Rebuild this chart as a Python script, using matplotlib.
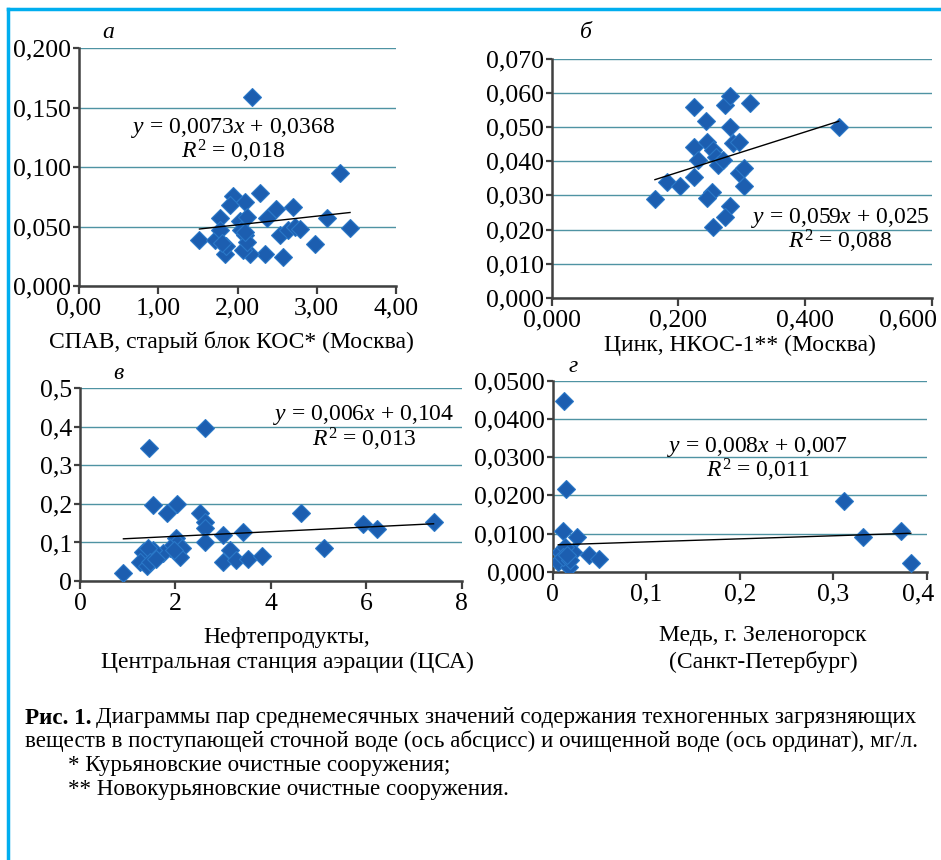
import numpy as np
import matplotlib
matplotlib.use("Agg")
import matplotlib.pyplot as plt
from matplotlib.lines import Line2D
from matplotlib.transforms import ScaledTranslation

plt.rcParams['font.family'] = ['Liberation Serif', 'DejaVu Serif']
plt.rcParams['mathtext.fontset'] = 'custom'
plt.rcParams['mathtext.rm'] = 'Liberation Serif'
plt.rcParams['mathtext.it'] = 'Liberation Serif:italic'

# ---------- data
a_x = [2.18, 3.29, 1.52, 3.42, 2.98, 2.58, 2.28, 1.94, 1.90, 2.09, 1.78, 2.49, 2.70,
       3.13, 2.35, 2.16, 2.07, 1.84, 1.86, 1.72, 1.78, 2.03, 2.12, 2.05, 2.09, 2.12,
       2.37, 2.54, 2.64, 2.73, 2.79, 2.10, 1.80]
a_y = [0.159, 0.095, 0.039, 0.049, 0.035, 0.024, 0.078, 0.076, 0.068, 0.071, 0.057, 0.065, 0.066,
       0.057, 0.027, 0.027, 0.030, 0.027, 0.034, 0.039, 0.047, 0.055, 0.058, 0.047, 0.043, 0.037,
       0.057, 0.043, 0.047, 0.050, 0.048, 0.045, 0.036]

b_x = [0.163, 0.182, 0.203, 0.224, 0.224, 0.224, 0.231, 0.244, 0.245, 0.255, 0.260, 0.263, 0.271,
       0.274, 0.282, 0.282, 0.287, 0.295, 0.295, 0.303, 0.303, 0.313, 0.253, 0.245, 0.282, 0.274,
       0.255, 0.453]
b_y = [0.0289, 0.0340, 0.0328, 0.0560, 0.0443, 0.0355, 0.0404, 0.0519, 0.0458, 0.0433, 0.0413, 0.0389, 0.0404,
       0.0565, 0.0592, 0.0500, 0.0453, 0.0458, 0.0365, 0.0380, 0.0328, 0.0570, 0.0311, 0.0291, 0.0269, 0.0238,
       0.0208, 0.0500]

c_x = [0.91, 1.45, 2.62, 1.52, 2.03, 1.82, 2.52, 2.62, 2.62, 2.62, 3.00, 3.42, 2.01, 2.03, 2.13, 2.10,
       1.89, 1.75, 1.54, 1.33, 1.43, 1.26, 1.40, 1.47, 3.14, 3.00, 3.28, 3.53, 3.81, 4.63, 5.12, 5.93,
       6.22, 7.41, 1.60, 1.96]
c_y = [0.022, 0.346, 0.398, 0.197, 0.199, 0.176, 0.177, 0.154, 0.137, 0.102, 0.119, 0.128, 0.111, 0.098,
       0.085, 0.061, 0.085, 0.072, 0.080, 0.076, 0.085, 0.050, 0.039, 0.050, 0.080, 0.050, 0.054, 0.056,
       0.065, 0.176, 0.085, 0.147, 0.135, 0.154, 0.058, 0.080]

d_x = [0.0125, 0.0143, 0.0114, 0.0264, 0.312, 0.332, 0.372, 0.383, 0.039, 0.049, 0.008, 0.006,
       0.017, 0.022, 0.013, 0.011, 0.019, 0.015]
d_y = [0.0447, 0.0216, 0.0106, 0.0090, 0.0186, 0.0090, 0.0106, 0.0024, 0.0044, 0.0032, 0.0052, 0.0026,
       0.0013, 0.0052, 0.0065, 0.0039, 0.0031, 0.0045]

# trend line coefficients (slope, intercept) and labels as printed
trend = {'a': (0.0073, 0.0368), 'b': (0.059, 0.025), 'c': (0.006, 0.104), 'd': (0.008, 0.007)}
eq_text = {'a': ('$y$ = 0,0073$x$ + 0,0368', '$R^{\\mathrm{2}}$ = 0,018'),
           'b': ('$y$ = 0,059$x$ + 0,025', '$R^{\\mathrm{2}}$ = 0,088'),
           'c': ('$y$ = 0,006$x$ + 0,104', '$R^{\\mathrm{2}}$ = 0,013'),
           'd': ('$y$ = 0,008$x$ + 0,007', '$R^{\\mathrm{2}}$ = 0,011')}

a_xticks = [0, 1, 2, 3, 4]
a_xlabels = ['0,00', '1,00', '2,00', '3,00', '4,00']
a_yticks = [0, 0.05, 0.10, 0.15, 0.20]
a_ylabels = ['0,000', '0,050', '0,100', '0,150', '0,200']
b_xticks = [0, 0.2, 0.4, 0.6]
b_xlabels = ['0,000', '0,200', '0,400', '0,600']
b_yticks = [0, 0.01, 0.02, 0.03, 0.04, 0.05, 0.06, 0.07]
b_ylabels = ['0,000', '0,010', '0,020', '0,030', '0,040', '0,050', '0,060', '0,070']
c_xticks = [0, 2, 4, 6, 8]
c_xlabels = ['0', '2', '4', '6', '8']
c_yticks = [0, 0.1, 0.2, 0.3, 0.4, 0.5]
c_ylabels = ['0', '0,1', '0,2', '0,3', '0,4', '0,5']
d_xticks = [0, 0.1, 0.2, 0.3, 0.4]
d_xlabels = ['0', '0,1', '0,2', '0,3', '0,4']
d_yticks = [0, 0.01, 0.02, 0.03, 0.04, 0.05]
d_ylabels = ['0,000', '0,0100', '0,0200', '0,0300', '0,0400', '0,0500']

W, H = 941, 860
fig = plt.figure(figsize=(W / 100, H / 100), dpi=100)

def fx(px):
    return px / W

def fy(py):
    return 1 - py / H

def panel(rect, xs, ys, key, xticks, xlabels, yticks, ylabels, eq_pos, eq_dy, last_shift=0):
    ax = fig.add_axes(rect)
    ax.set_xlim(xticks[0], xticks[-1])
    ax.set_ylim(yticks[0], yticks[-1])
    ax.set_yticks(yticks)
    ax.set_yticklabels(ylabels)
    ax.set_xticks(xticks)
    ax.set_xticklabels(xlabels)
    ax.grid(axis='y', color='#4f93a3', lw=1.0)
    ax.set_axisbelow(True)
    for s in ['top', 'right']:
        ax.spines[s].set_visible(False)
    for s in ['left', 'bottom']:
        ax.spines[s].set_color('#404040')
        ax.spines[s].set_linewidth(1.8)
    ax.tick_params(direction='out', width=1.6, color='#404040', labelsize=18.5)
    ax.tick_params(axis='y', length=4.5, pad=1)
    ax.tick_params(axis='x', length=6, pad=2.5)
    if last_shift:
        lab = ax.get_xticklabels()[-1]
        lab.set_transform(lab.get_transform() + ScaledTranslation(last_shift / 100, 0, fig.dpi_scale_trans))
    ax.plot(xs, ys, ls='none', marker='D', ms=9, color='#1c5eb0',
            mec='#2a78c8', mew=0.8, zorder=3)
    k, b = trend[key]
    tx = np.array([min(xs), max(xs)])
    ax.plot(tx, k * tx + b, color='black', lw=1.0, zorder=4)
    l1, l2 = eq_text[key]
    ax.text(eq_pos[0], eq_pos[1], l1, ha='center', va='center', fontsize=17, zorder=5)
    ax.text(eq_pos[0], eq_pos[1] - eq_dy, l2, ha='center', va='center', fontsize=17, zorder=5)
    return ax

panel([fx(79), fy(286), fx(396) - fx(79), fy(48) - fy(286)], a_x, a_y, 'a',
      a_xticks, a_xlabels, a_yticks, a_ylabels, (1.94, 0.133), 0.020)
panel([fx(551.7), fy(297.7), fx(931.7) - fx(551.7), fy(59) - fy(297.7)], b_x, b_y, 'b',
      b_xticks, b_xlabels, b_yticks, b_ylabels, (0.455, 0.0233), 0.0069, last_shift=-24)
panel([fx(80), fy(581), fx(461.7) - fx(80), fy(388.3) - fy(581)], c_x, c_y, 'c',
      c_xticks, c_xlabels, c_yticks, c_ylabels, (5.95, 0.431), 0.063)
panel([fx(552.7), fy(571.7), fx(926.7) - fx(552.7), fy(380.7) - fy(571.7)], d_x, d_y, 'd',
      d_xticks, d_xlabels, d_yticks, d_ylabels, (0.219, 0.0326), 0.0062, last_shift=-9)

# panel letters
for px, py, s in [(108, 33, 'а'), (586, 33, 'б'), (118, 373, 'в'), (573, 367, 'г')]:
    fig.text(fx(px), fy(py), s, fontsize=17, style='italic', ha='center', va='center')

# axis titles
fig.text(fx(231), fy(342), 'СПАВ, старый блок КОС* (Москва)', fontsize=17, ha='center', va='center')
fig.text(fx(740), fy(345), 'Цинк, НКОС-1** (Москва)', fontsize=17, ha='center', va='center')
fig.text(fx(287), fy(637), 'Нефтепродукты,', fontsize=17, ha='center', va='center')
fig.text(fx(287), fy(662), 'Центральная станция аэрации (ЦСА)', fontsize=17, ha='center', va='center')
fig.text(fx(763), fy(636), 'Медь, г. Зеленогорск', fontsize=17, ha='center', va='center')
fig.text(fx(763), fy(662), '(Санкт-Петербург)', fontsize=17, ha='center', va='center')

# caption
cap = 16.6
fig.text(fx(25), fy(718), 'Рис. 1.', fontsize=cap, weight='bold', ha='left', va='center')
fig.text(fx(96), fy(718), 'Диаграммы пар среднемесячных значений содержания техногенных загрязняющих',
         fontsize=cap, ha='left', va='center')
fig.text(fx(25), fy(741), 'веществ в поступающей сточной воде (ось абсцисс) и очищенной воде (ось ординат), мг/л.',
         fontsize=cap, ha='left', va='center')
fig.text(fx(68), fy(765), '* Курьяновские очистные сооружения;', fontsize=cap, ha='left', va='center')
fig.text(fx(68), fy(789), '** Новокурьяновские очистные сооружения.', fontsize=cap, ha='left', va='center')

# blue frame
fig.add_artist(Line2D([fx(8), fx(8)], [fy(9), 0], color='#00aeef', lw=2.5))
fig.add_artist(Line2D([fx(8), 1], [fy(9), fy(9)], color='#00aeef', lw=2.5))

fig.savefig('out.png', dpi=100)
